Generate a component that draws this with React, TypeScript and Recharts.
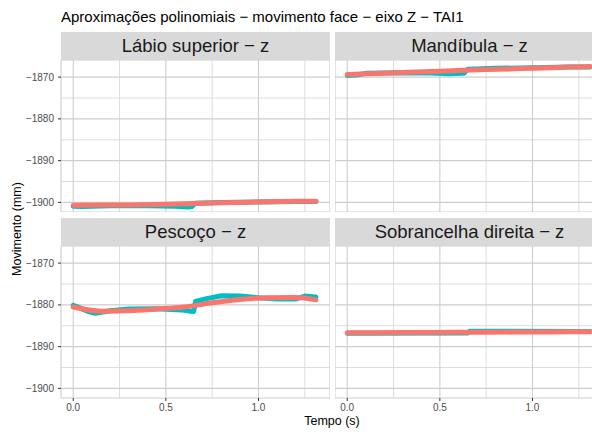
import { CartesianGrid, Line, LineChart, XAxis, YAxis } from "recharts";

// tick labels / axis setup
const yTicks = [-1900, -1890, -1880, -1870];
const yMinor = [-1895, -1885, -1875, -1865];
const xTicks = [0, 0.5, 1.0];
const xMinor = [0.25, 0.75, 1.25];
const yDomain: [number, number] = [-1902.3, -1865.9];
const xDomain: [number, number] = [-0.066, 1.386];

// fitted polynomial (red), shared time grid
const ajusteTempo = [0, 0.15, 0.3, 0.45, 0.6, 0.75, 0.9, 1.05, 1.2, 1.31];

// Lábio superior
const labioTempo = [0, 0.05, 0.2, 0.4, 0.55, 0.62, 0.64, 0.66, 0.8, 1.0, 1.2, 1.31];
const labioDados = [-1900.9, -1901.0, -1900.8, -1900.8, -1900.95, -1901.1, -1901.0, -1900.2, -1900.0, -1899.9, -1899.8, -1899.8];
const labioAjuste = [-1900.7, -1900.65, -1900.6, -1900.5, -1900.35, -1900.15, -1900.0, -1899.85, -1899.75, -1899.7];

// Mandíbula
const mandTempo = [0, 0.05, 0.1, 0.3, 0.45, 0.55, 0.63, 0.65, 0.8, 1.0, 1.2, 1.31];
const mandDados = [-1869.6, -1869.5, -1869.1, -1868.95, -1869.0, -1869.2, -1869.1, -1868.1, -1867.9, -1867.75, -1867.6, -1867.55];
const mandAjuste = [-1869.4, -1869.15, -1868.9, -1868.65, -1868.4, -1868.2, -1868.0, -1867.8, -1867.6, -1867.45];

// Pescoço
const pescTempo = [0, 0.03, 0.08, 0.12, 0.2, 0.3, 0.45, 0.58, 0.63, 0.65, 0.66, 0.72, 0.8, 0.9, 1.0, 1.1, 1.2, 1.25, 1.31];
const pescDados = [-1880.1, -1880.6, -1881.6, -1882.0, -1881.4, -1881.0, -1880.9, -1881.2, -1881.5, -1881.6, -1879.2, -1878.5, -1877.8, -1877.9, -1878.3, -1878.6, -1878.6, -1877.9, -1878.1];
const pescAjuste = [-1880.5, -1881.5, -1881.4, -1881.0, -1880.5, -1879.5, -1878.7, -1878.3, -1878.25, -1878.8];

// Sobrancelha direita
const sobrTempo = [0, 0.65, 0.66, 1.31];
const sobrDados = [-1886.8, -1886.75, -1886.3, -1886.35];
const sobrAjuste = [-1886.7, -1886.67, -1886.64, -1886.61, -1886.58, -1886.55, -1886.52, -1886.49, -1886.46, -1886.44];

const fmtY = (v: number) => String(v).replace("-", "\u2212");
const tickStyle = { fontSize: 10, fill: "#4d4d4d" };

interface PanelProps {
  titulo: string;
  plotLeft: number;
  stripTop: number;
  showY: boolean;
  showX: boolean;
  tempo: number[];
  dados: number[];
  ajuste: number[];
}

const PLOT_W = 269;
const PLOT_H = 152;
const STRIP_H = 28;
const Y_W = 61;

function Panel({ titulo, plotLeft, stripTop, showY, showX, tempo, dados, ajuste }: PanelProps) {
  const serie = tempo.map((t, i) => ({ t, v: dados[i] }));
  const fit = ajusteTempo.map((t, i) => ({ t, v: ajuste[i] }));
  return (
    <>
      <div
        style={{
          position: "absolute",
          left: plotLeft,
          top: stripTop,
          width: PLOT_W,
          height: STRIP_H,
          background: "#d9d9d9",
          color: "#1a1a1a",
          fontSize: 18.5,
          lineHeight: `${STRIP_H}px`,
          textAlign: "center",
        }}
      >
        {titulo}
      </div>
      <div style={{ position: "absolute", left: showY ? plotLeft - Y_W : plotLeft, top: stripTop + STRIP_H }}>
        <LineChart
          width={PLOT_W + (showY ? Y_W : 0)}
          height={PLOT_H + (showX ? 22 : 0)}
          margin={{ top: 0, right: 0, bottom: 0, left: 0 }}
        >
          <CartesianGrid
            stroke="#d9d9d9"
            strokeWidth={0.9}
            horizontalValues={yMinor}
            verticalValues={xMinor}
          />
          <CartesianGrid stroke="#cdcdcd" strokeWidth={1.1} />
          <XAxis
            type="number"
            dataKey="t"
            domain={xDomain}
            ticks={xTicks}
            allowDataOverflow
            hide={!showX}
            height={22}
            axisLine={false}
            tickSize={3}
            tickMargin={3}
            tickLine={{ stroke: "#333" }}
            tick={tickStyle}
            tickFormatter={(v: number) => v.toFixed(1)}
          />
          <YAxis
            type="number"
            domain={yDomain}
            ticks={yTicks}
            allowDataOverflow
            hide={!showY}
            width={Y_W}
            axisLine={false}
            tickSize={3}
            tickMargin={4}
            tickLine={{ stroke: "#333" }}
            tick={tickStyle}
            tickFormatter={fmtY}
          />
          <Line
            data={serie}
            dataKey="v"
            type="linear"
            stroke="#00BFC4"
            strokeWidth={5}
            strokeLinecap="round"
            strokeLinejoin="round"
            dot={false}
            isAnimationActive={false}
          />
          <Line
            data={fit}
            dataKey="v"
            type="monotone"
            stroke="#F8766D"
            strokeWidth={5}
            strokeLinecap="round"
            dot={false}
            isAnimationActive={false}
          />
        </LineChart>
      </div>
    </>
  );
}

export default function App() {
  return (
    <div
      style={{
        position: "absolute",
        left: 0,
        top: 0,
        width: 592,
        height: 432,
        overflow: "hidden",
        background: "#fff",
        fontFamily: '"Liberation Sans", Arial, sans-serif',
      }}
    >
      <div style={{ position: "absolute", left: 61, top: 8, fontSize: 15, color: "#000", whiteSpace: "nowrap" }}>
        Aproximações polinomiais − movimento face − eixo Z − TAI1
      </div>
      <Panel titulo="Lábio superior − z" plotLeft={61} stripTop={32} showY showX={false} tempo={labioTempo} dados={labioDados} ajuste={labioAjuste} />
      <Panel titulo="Mandíbula − z" plotLeft={335} stripTop={32} showY={false} showX={false} tempo={mandTempo} dados={mandDados} ajuste={mandAjuste} />
      <Panel titulo="Pescoço − z" plotLeft={61} stripTop={218} showY showX tempo={pescTempo} dados={pescDados} ajuste={pescAjuste} />
      <Panel titulo="Sobrancelha direita − z" plotLeft={335} stripTop={218} showY={false} showX tempo={sobrTempo} dados={sobrDados} ajuste={sobrAjuste} />
      <div
        style={{
          position: "absolute",
          left: 272,
          top: 414,
          width: 120,
          textAlign: "center",
          fontSize: 12.5,
          color: "#000",
        }}
      >
        Tempo (s)
      </div>
      <div
        style={{
          position: "absolute",
          left: 17,
          top: 229,
          fontSize: 12.5,
          color: "#000",
          whiteSpace: "nowrap",
          transform: "translate(-50%, -50%) rotate(-90deg)",
        }}
      >
        Movimento (mm)
      </div>
    </div>
  );
}
